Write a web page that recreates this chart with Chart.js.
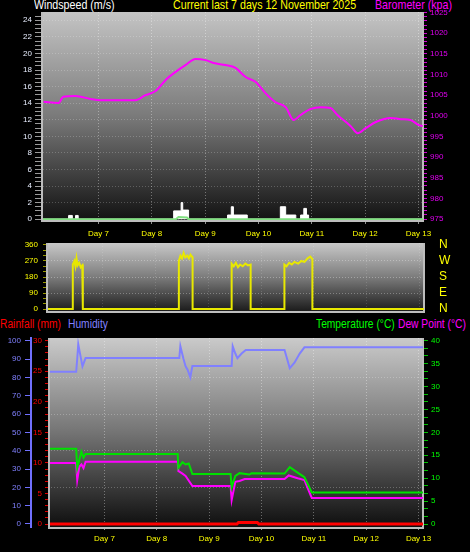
<!DOCTYPE html>
<html>
<head>
<meta charset="utf-8">
<script src="https://cdn.jsdelivr.net/npm/chart.js@4.4.1/dist/chart.umd.min.js"></script>
<style>
body { margin: 0; background: #000; width: 470px; height: 552px; overflow: hidden; position: relative;
       font-family: 'Liberation Sans Narrow', 'Liberation Sans', Arial, sans-serif; }
canvas { position: absolute; left: 0; }
.lbl { position: absolute; font-size: 13px; line-height: 13px; white-space: nowrap; transform: scaleX(0.82); transform-origin: 0 0; }
.low { font-size: 12.5px; }
</style>
</head>
<body>
<div class="lbl" style="left:34px;top:-2px;color:#ffffff">Windspeed (m/s)</div>
<div class="lbl" style="left:173px;top:-2px;color:#ffff00">Current last 7 days 12 November 2025</div>
<div class="lbl" style="left:375px;top:-2px;color:#ff00ff">Barometer (kpa)</div>
<div class="lbl low" style="left:0px;top:318px;color:#ff0000">Rainfall (mm)</div>
<div class="lbl low" style="left:68px;top:318px;color:#8080ff">Humidity</div>
<div class="lbl low" style="left:316px;top:318px;color:#00ff00">Temperature (°C)</div>
<div class="lbl low" style="left:398px;top:318px;color:#ff00ff">Dew Point (°C)</div>

<canvas id="c1" width="470" height="241" style="top:0px"></canvas>
<canvas id="c2" width="470" height="90" style="top:232px"></canvas>
<canvas id="c3" width="470" height="233" style="top:319px"></canvas>

<script>
// x axis: days
const days = [7, 8, 9, 10, 11, 12, 13];
const xMin = 5.96, xMax = 13.085;

// Barometer (top panel)
const baroDays = [5.97, 6.25, 6.34, 6.57, 6.85, 7.04, 7.69, 7.88, 8.07, 8.26, 8.44, 8.63, 8.82, 9.01, 9.16, 9.38, 9.57, 9.76, 9.95, 10.13,
                  10.32, 10.51, 10.66, 10.79, 10.98, 11.17, 11.35, 11.48, 11.73, 11.86, 12.01, 12.20, 12.48, 12.67, 12.85, 13.00, 13.08];
const baroValues = [1003.4, 1003.1, 1004.6, 1004.8, 1004.1, 1003.8, 1003.8, 1005.0, 1006.0, 1008.7, 1010.6, 1012.3, 1013.8, 1013.5, 1012.8, 1012.3, 1011.6, 1009.4, 1008.2, 1005.5,
                    1003.3, 1002.1, 999.0, 1000.2, 1001.7, 1002.1, 1001.9, 1000.2, 997.5, 995.8, 997.0, 998.5, 999.5, 999.2, 999.0, 997.8, 997.5];

// Wind gust (white) and wind average (green)
const gustDays = [5.96, 6.44, 6.51, 6.57, 6.62, 8.41, 8.55, 8.58, 8.69, 9.42, 9.49, 9.53, 9.79, 10.41, 10.51, 10.70, 10.79, 10.85, 10.90, 10.94, 13.085];
const gustValues = [0, 0.45, 0, 0.45, 0, 1.0, 2.0, 1.1, 0, 0.5, 1.5, 0.5, 0, 1.5, 0.5, 0, 0.5, 1.3, 0.5, 0, 0];
const avgDays = [5.96, 8.45, 8.50, 8.66, 8.69, 13.085];
const avgValues = [0, 0, 0.25, 0.2, 0, 0];

// Wind direction (middle panel)
const dirDays = [5.96, 6.43, 6.43, 6.46, 6.48, 6.50, 6.52, 6.55, 6.58, 6.61, 6.62, 6.62,
                 8.44, 8.44, 8.47, 8.50, 8.53, 8.56, 8.60, 8.63, 8.66, 8.70, 8.70,
                 9.44, 9.44, 9.48, 9.52, 9.56, 9.60, 9.65, 9.70, 9.75, 9.80, 9.80,
                 10.44, 10.44, 10.48, 10.53, 10.58, 10.63, 10.70, 10.76, 10.82, 10.88, 10.93, 10.97, 10.97, 13.085];
const dirValues = [0, 0, 250, 270, 240, 285, 245, 260, 235, 245, 250, 0,
                   0, 270, 300, 285, 315, 290, 300, 285, 305, 290, 0,
                   0, 255, 240, 260, 235, 250, 240, 255, 245, 250, 0,
                   0, 250, 240, 260, 250, 265, 255, 270, 265, 285, 295, 280, 0, 0];
const dirTicks = [0, 90, 180, 270, 360];
const compass = ['N', 'E', 'S', 'W', 'N'];

// Bottom panel
const humDays = [5.95, 6.46, 6.48, 6.50, 6.54, 6.58, 6.64, 8.43, 8.45, 8.51, 8.55, 8.59, 8.64, 8.68, 9.43, 9.45, 9.50, 9.54, 9.62, 9.70,
                 10.44, 10.48, 10.54, 10.63, 10.73, 10.82, 13.085];
const humValues = [83, 83, 90, 98, 92, 86, 90.5, 90.5, 97, 90, 86, 84, 80, 86.2, 86.2, 97, 93, 90.5, 93, 94.9,
                   94.9, 91, 85, 88, 93, 96.4, 96.4];
const tempDays = [5.95, 6.46, 6.48, 6.52, 6.56, 6.60, 6.64, 8.40, 8.41, 8.49, 8.55, 8.61, 8.68, 9.41, 9.43, 9.50, 9.58, 9.77, 9.81, 10.44,
                  10.54, 10.69, 10.82, 10.96, 13.085];
const tempValues = [16.4, 16.4, 12.2, 14, 15.8, 14.5, 15.3, 15.3, 12.2, 13.5, 13.0, 13.2, 10.9, 10.9, 8, 10.5, 11.1, 10.8, 11.1, 11,
                    12.4, 11.2, 10.2, 6.9, 6.9];
const dewDays = [5.95, 6.46, 6.48, 6.52, 6.56, 6.60, 6.64, 8.40, 8.41, 8.49, 8.55, 8.68, 9.41, 9.43, 9.50, 9.58, 9.68, 10.44, 10.52, 10.69,
                 10.82, 10.96, 13.085];
const dewValues = [13.3, 13.3, 9.6, 12.5, 13.0, 12.2, 13.6, 13.6, 11.6, 11.0, 10.5, 8.3, 8.3, 5.2, 9.2, 9.4, 9.8, 9.8, 10.6, 10.0,
                   9.6, 5.7, 5.7];
const rainDays = [5.95, 9.53, 9.56, 9.92, 9.95, 13.085];
const rainValues = [0, 0, 0.25, 0.25, 0, 0];

Chart.defaults.font.family = "'Liberation Sans Narrow', 'Liberation Sans', Arial, sans-serif";
Chart.defaults.font.size = 8;

function pts(xs, ys) { return xs.map((x, i) => ({ x: x, y: ys[i] })); }
function range(a, b, step) { const out = []; for (let v = a; v <= b + 1e-9; v += step) out.push(+v.toFixed(4)); return out; }
function ticksAt(vals) { return scale => { scale.ticks = vals.map(v => ({ value: v })); }; }
function fixW(w) { return scale => { scale.width = w; }; }
function fixH(h) { return scale => { scale.height = h; }; }
function isMult(v, m) { return Math.abs(v / m - Math.round(v / m)) < 1e-6; }

// gradient background and light frame round the plot area
const panel = {
  id: 'panel',
  beforeDraw(chart, args, opts) {
    const { ctx, chartArea: a } = chart;
    const g = ctx.createLinearGradient(0, a.top, 0, a.bottom);
    g.addColorStop(0, opts.top);
    g.addColorStop(0.5, opts.mid);
    g.addColorStop(1, opts.bottom);
    ctx.save();
    ctx.fillStyle = g;
    ctx.fillRect(a.left, a.top, a.right - a.left, a.bottom - a.top);
    ctx.restore();
  },
  beforeDatasetsDraw(chart) {
    const { ctx, chartArea: a } = chart;
    ctx.save();
    ctx.strokeStyle = '#bdbdbd';
    ctx.lineWidth = 2;
    ctx.beginPath();
    ctx.moveTo(a.left - 1, a.top);
    ctx.lineTo(a.left - 1, a.bottom + 1);
    ctx.lineTo(a.right, a.bottom + 1);
    ctx.lineTo(a.right, a.top);
    ctx.stroke();
    ctx.restore();
  }
};

const base = {
  responsive: false,
  animation: false,
  events: [],
};

// Top: windspeed + barometer
new Chart(document.getElementById('c1'), {
  type: 'line',
  data: {
    datasets: [
      { label: 'Barometer', data: pts(baroDays, baroValues), yAxisID: 'baro', borderColor: '#ff00ff', borderWidth: 2, pointRadius: 0, cubicInterpolationMode: 'monotone' },
      { label: 'Wind', data: pts(avgDays, avgValues), yAxisID: 'wind', borderColor: '#80e080', borderWidth: 2, pointRadius: 0 },
      { label: 'Gust', data: pts(gustDays, gustValues), yAxisID: 'wind', borderColor: '#ffffff', backgroundColor: '#ffffff', borderWidth: 1, fill: 'origin', stepped: true, pointRadius: 0 }
    ]
  },
  options: Object.assign({}, base, {
    layout: { padding: { top: 12, left: 0, right: 0, bottom: 0 } },
    plugins: { legend: { display: false }, tooltip: { enabled: false },
               panel: { top: '#c4c4c4', mid: '#7a7a7a', bottom: '#121212' } },
    scales: {
      x: { type: 'linear', min: xMin, max: xMax, afterBuildTicks: ticksAt(days), afterFit: fixH(21),
           ticks: { color: '#ffff00', padding: 5, autoSkip: false, maxRotation: 0, callback: v => 'Day ' + v },
           grid: { color: 'rgba(255,255,255,0.35)', tickColor: '#909090', tickLength: 4 },
           border: { display: false, dash: [1, 2] } },
      wind: { position: 'left', min: -0.1, max: 25, afterBuildTicks: ticksAt(range(0, 24.5, 0.5)), afterFit: fixW(43),
              ticks: { color: '#e8eeff', padding: 3, autoSkip: false, callback: v => isMult(v, 2) ? v : '' },
              grid: { color: c => isMult(c.tick.value, 2) ? 'rgba(255,255,255,0.22)' : 'rgba(0,0,0,0)', tickColor: '#9a9a9a', tickLength: 8 },
              border: { display: false, dash: [1, 2] } },
      baro: { position: 'right', min: 974.76, max: 1025.16, afterBuildTicks: ticksAt(range(975, 1025, 1)), afterFit: fixW(47),
              ticks: { color: '#e000f0', padding: 3, autoSkip: false, callback: v => isMult(v, 5) ? v : '' },
              grid: { drawOnChartArea: false, tickColor: '#d000d0', tickLength: 4 },
              border: { display: false } }
    }
  }),
  plugins: [panel]
});

// Middle: wind direction
new Chart(document.getElementById('c2'), {
  type: 'line',
  data: {
    datasets: [
      { label: 'Direction', data: pts(dirDays, dirValues), yAxisID: 'dir', borderColor: '#e8e800', borderWidth: 2, pointRadius: 0 }
    ]
  },
  options: Object.assign({}, base, {
    layout: { padding: { top: 11, left: 0, right: 0, bottom: 0 } },
    plugins: { legend: { display: false }, tooltip: { enabled: false },
               panel: { top: '#c8c8c8', mid: '#7c7c7c', bottom: '#1c1c1c' } },
    scales: {
      x: { type: 'linear', min: xMin, max: xMax, afterBuildTicks: ticksAt(days), afterFit: fixH(11),
           ticks: { display: false },
           grid: { color: 'rgba(255,255,255,0.15)', drawTicks: false },
           border: { display: false, dash: [1, 2] } },
      dir: { position: 'left', min: -11, max: 371, afterBuildTicks: ticksAt(range(0, 360, 30)), afterFit: fixW(48),
             ticks: { color: '#ffff00', padding: 5, autoSkip: false, callback: v => isMult(v, 90) ? v : '' },
             grid: { color: c => isMult(c.tick.value, 90) && c.tick.value > 0 && c.tick.value < 360 ? 'rgba(255,255,255,0.3)' : 'rgba(0,0,0,0)', tickColor: '#9a9a00', tickLength: 5 },
             border: { display: false, dash: [1, 2] } },
      compass: { position: 'right', min: -11, max: 371, afterBuildTicks: ticksAt(dirTicks), afterFit: fixW(46),
                 ticks: { color: '#ffff00', padding: 3, autoSkip: false, font: { size: 12 }, callback: (v, i) => compass[i] },
                 grid: { drawOnChartArea: false, tickColor: 'rgba(0,0,0,0)', tickLength: 12 }, border: { display: false } }
    }
  }),
  plugins: [panel]
});

// Bottom: rainfall, humidity, temperature, dew point
new Chart(document.getElementById('c3'), {
  type: 'line',
  data: {
    datasets: [
      { label: 'Rainfall', data: pts(rainDays, rainValues), yAxisID: 'rain', borderColor: '#ff0000', borderWidth: 3, pointRadius: 0 },
      { label: 'Humidity', data: pts(humDays, humValues), yAxisID: 'hum', borderColor: '#8080ff', borderWidth: 2, pointRadius: 0 },
      { label: 'Temperature', data: pts(tempDays, tempValues), yAxisID: 'temp', borderColor: '#00e000', borderWidth: 2, pointRadius: 0 },
      { label: 'Dew Point', data: pts(dewDays, dewValues), yAxisID: 'temp', borderColor: '#ff00ff', borderWidth: 2, pointRadius: 0 }
    ]
  },
  options: Object.assign({}, base, {
    layout: { padding: { top: 19, left: 0, right: 0, bottom: 0 } },
    plugins: { legend: { display: false }, tooltip: { enabled: false },
               panel: { top: '#cacaca', mid: '#747474', bottom: '#0e0e0e' } },
    scales: {
      x: { type: 'linear', min: xMin, max: xMax, afterBuildTicks: ticksAt(days), afterFit: fixH(25),
           ticks: { color: '#ffff00', padding: 4, autoSkip: false, maxRotation: 0, callback: v => 'Day ' + v },
           grid: { color: 'rgba(255,255,255,0.35)', tickColor: '#909090', tickLength: 3 },
           border: { display: false, dash: [1, 2] } },
      hum: { position: 'left', weight: 2, min: -1.64, max: 101.47, afterBuildTicks: ticksAt(range(0, 100, 10)), afterFit: fixW(31),
             ticks: { color: '#8080ff', padding: 4, autoSkip: false },
             grid: { color: c => isMult(c.tick.value, 20) && c.tick.value > 0 && c.tick.value < 100 ? 'rgba(255,255,255,0.25)' : 'rgba(0,0,0,0)', tickColor: '#7070ff', tickLength: 6 },
             border: { display: true, color: '#7070ff', width: 2, dash: [1, 2] } },
      rain: { position: 'left', weight: 1, min: -0.49, max: 30.44, afterBuildTicks: ticksAt(range(0, 30, 1)), afterFit: fixW(19),
              ticks: { color: '#ff0000', padding: 3, autoSkip: false, callback: v => isMult(v, 5) ? v : '' },
              grid: { drawOnChartArea: false, tickColor: '#e00000', tickLength: 5 },
              border: { display: false } },
      temp: { position: 'right', min: -0.65, max: 40.59, afterBuildTicks: ticksAt(range(0, 40, 5 / 3)), afterFit: fixW(47),
              ticks: { color: '#00ff00', padding: 3, autoSkip: false, callback: v => isMult(v, 5) ? Math.round(v) : '' },
              grid: { drawOnChartArea: false, tickColor: '#00c000', tickLength: 5 },
              border: { display: false } }
    }
  }),
  plugins: [panel]
});
</script>
</body>
</html>
